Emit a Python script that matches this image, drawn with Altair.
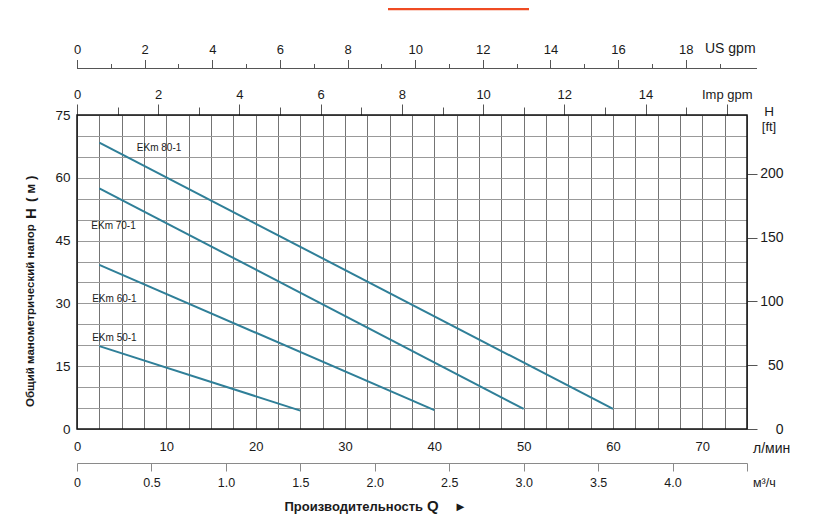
import altair as alt
import pandas as pd

# ---------------- data ----------------
models = ["EKm 50-1", "EKm 60-1", "EKm 70-1", "EKm 80-1"]
flow_start = [2.5, 2.5, 2.5, 2.5]        # l/min
flow_end = [25.0, 40.0, 50.0, 60.0]      # l/min
head_start = [19.8, 39.2, 57.5, 68.4]    # m
head_end = [4.4, 4.5, 4.8, 4.8]          # m
label_flow = [1.7, 1.7, 1.6, 6.7]        # where the model names sit
label_head = [21.8, 31.0, 48.5, 67.2]

lmin_grid = [i * 2.5 for i in range(31)]          # vertical grid / л/мин axis
head_grid = [i * 5 for i in range(16)]            # horizontal grid / m axis
ft_ticks = [0, 50, 100, 150, 200]
imp_major = [0, 2, 4, 6, 8, 10, 12, 14, 16]
imp_minor = [1, 3, 5, 7, 9, 11, 13, 15]
us_major = [0, 2, 4, 6, 8, 10, 12, 14, 16, 18]
us_minor = [1, 3, 5, 7, 9, 11, 13, 15, 17, 19]
m3h_ticks = [0, 0.5, 1.0, 1.5, 2.0, 2.5, 3.0, 3.5, 4.0, 4.5]

Q_MAX = 75.0
H_MAX = 75.0
L_PER_IMP = 4.54609
L_PER_US = 3.78541
FT_PER_M = 3.28084

# ---------------- tables ----------------
rows = []
for m, q0, q1, h0, h1 in zip(models, flow_start, flow_end, head_start, head_end):
    rows.append({"model": m, "q": q0, "h": h0})
    rows.append({"model": m, "q": q1, "h": h1})
curves = pd.DataFrame(rows)
labels = pd.DataFrame({"model": models, "q": label_flow, "h": label_head})

W, H = 670, 314
FONT = "Liberation Sans"
TXT = "#1a1a1a"
LINE = "#2f7f98"


def sc(dmax):
    return alt.Scale(domain=[0, dmax], nice=False, zero=False)


x_main = alt.X(
    "q:Q", scale=sc(Q_MAX),
    axis=alt.Axis(orient="bottom", values=lmin_grid,
                  labelExpr="datum.value % 10 == 0 ? datum.label : ''",
                  ticks=False, domain=False, grid=True, gridColor="#747474",
                  gridWidth=1, labelPadding=11, labelFontSize=13, title=None),
)
y_main = alt.Y(
    "h:Q", scale=sc(H_MAX),
    axis=alt.Axis(orient="left", values=head_grid,
                  labelExpr="datum.value % 15 == 0 ? datum.label : ''",
                  ticks=False, domain=False, grid=True, gridColor="#999999",
                  gridWidth=1, labelPadding=7, labelFontSize=13.5, title=None),
)

lines = alt.Chart(curves).mark_line(color=LINE, strokeWidth=2).encode(
    x=x_main, y=y_main, detail="model:N"
)

names = alt.Chart(labels).mark_text(
    align="left", baseline="middle", fontSize=10, font=FONT, color=TXT
).encode(
    x=alt.X("q:Q", scale=sc(Q_MAX), axis=None),
    y=alt.Y("h:Q", scale=sc(H_MAX), axis=None),
    text="model:N",
)

ft_axis = alt.Chart(pd.DataFrame({"ft": ft_ticks})).mark_point(opacity=0).encode(
    y=alt.Y("ft:Q", scale=sc(H_MAX * FT_PER_M),
            axis=alt.Axis(orient="right", values=ft_ticks, tickSize=10,
                          tickColor="#555", domain=False, grid=False,
                          labelAlign="right", labelPadding=26,
                          labelFontSize=14, title=None))
)


def top_axis(field, vals, dmax, offset, tick, labels_on, pad=3, expr=None):
    kw = dict(orient="top", values=vals, tickSize=tick, tickColor="#555",
              domain=False, grid=False, offset=offset, labels=labels_on,
              labelPadding=pad, labelFontSize=13, title=None)
    if expr:
        kw["labelExpr"] = expr
    return alt.Chart(pd.DataFrame({field: vals})).mark_point(opacity=0).encode(
        x=alt.X(f"{field}:Q", scale=sc(dmax), axis=alt.Axis(**kw))
    )


imp_maj = top_axis("imp", imp_major, Q_MAX / L_PER_IMP, 0, 11, True, 3,
                   "datum.value == 16 ? 'Imp gpm' : datum.label")
imp_min = top_axis("impm", imp_minor, Q_MAX / L_PER_IMP, 0, 8, False)
us_maj = top_axis("us", us_major, Q_MAX / L_PER_US, 46.5, 9, True, 3)
us_min = top_axis("usm", us_minor, Q_MAX / L_PER_US, 46.5, 5, False)

m3h_axis = alt.Chart(pd.DataFrame({"m3h": m3h_ticks})).mark_point(opacity=0).encode(
    x=alt.X("m3h:Q", scale=sc(Q_MAX * 60 / 1000),
            axis=alt.Axis(orient="bottom", values=m3h_ticks, offset=34,
                          labelExpr="datum.value == 0 ? '0' : (datum.value > 4.25 ? '' : format(datum.value, '.1f'))",
                          tickSize=8, tickColor="#8a8a8a", domain=True,
                          domainColor="#8a8a8a", grid=False, labelPadding=5.5,
                          labelFontSize=12.5, title=None))
)


def txt(s, x, y, size, weight="normal", align="left", angle=0):
    return alt.Chart(pd.DataFrame({"t": [s]})).mark_text(
        align=align, baseline="middle", fontSize=size, fontWeight=weight,
        font=FONT, color=TXT, angle=angle
    ).encode(x=alt.value(x), y=alt.value(y), text="t:N")


texts = [
    txt("US gpm", 628, -66, 14),
    txt("H", 692, -3.5, 13.5, align="center"),
    txt("[ft]", 692, 11.5, 13, align="center"),
    txt("л/мин", 676, 334, 14),
    txt("м³/ч", 676, 368, 12.5),
    txt("Производительность", 346, 392, 13, "bold", "right"),
    txt("Q", 350, 391, 15, "bold"),
    txt("►", 377, 392, 13),
    txt("Общий манометрический напор", -46, 292, 11.5, "bold", "left", 270),
    txt("H", -46, 104, 15, "bold", "left", 270),
    txt("(  м  )", -46, 87, 13.5, "bold", "left", 270),
]

deco = pd.DataFrame({"d": [0]})
us_line = alt.Chart(deco).mark_rule(color="#555", strokeWidth=1).encode(
    x=alt.value(0), x2=alt.value(680), y=alt.value(-46.5))
red_bar = alt.Chart(deco).mark_rule(color="#ef4b23", strokeWidth=2.5).encode(
    x=alt.value(311), x2=alt.value(452), y=alt.value(-106))
frame = alt.Chart(deco).mark_rect(fillOpacity=0, stroke="#111", strokeWidth=1.5).encode(
    x=alt.value(0), x2=alt.value(W), y=alt.value(0), y2=alt.value(H))

chart = alt.layer(
    lines, names, ft_axis, imp_maj, imp_min, us_maj, us_min, m3h_axis,
    us_line, red_bar, frame, *texts
).resolve_scale(
    x="independent", y="independent"
).properties(
    width=W, height=H,
    autosize=alt.AutoSizeParams(type="none"),
    padding={"left": 69, "top": 107, "right": 60, "bottom": 85},
).configure_view(
    stroke=None
).configure_axis(
    labelFont=FONT, labelColor=TXT, labelFlush=False, labelOverlap=False
)

chart.save("out.html", embed_options={"renderer": "svg", "actions": False})
